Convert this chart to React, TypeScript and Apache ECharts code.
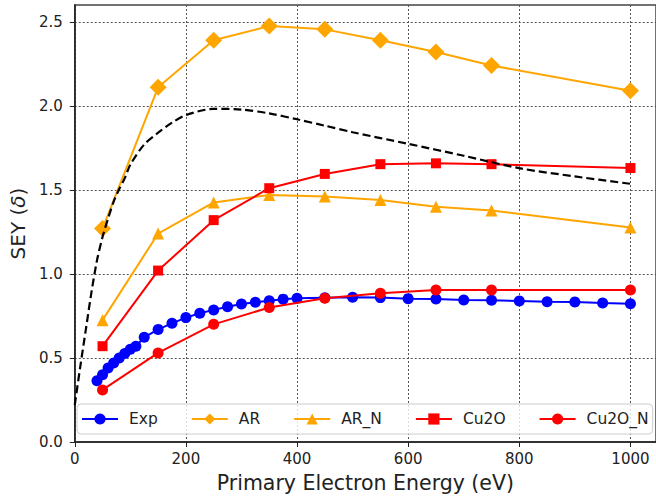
import React, { useEffect, useRef } from 'react';
import * as echarts from 'echarts';

// Simulation energies (eV)
const simEnergy = [50, 150, 250, 350, 450, 550, 650, 750, 1000];
const arValues = [1.27, 2.11, 2.39, 2.475, 2.455, 2.39, 2.32, 2.24, 2.09];
const arNValues = [0.725, 1.24, 1.425, 1.47, 1.46, 1.44, 1.40, 1.377, 1.276];
const cu2oValues = [0.57, 1.02, 1.32, 1.51, 1.595, 1.653, 1.658, 1.653, 1.63];
const cu2oNValues = [0.31, 0.53, 0.70, 0.80, 0.855, 0.885, 0.905, 0.905, 0.905];

// Experimental data
const expEnergy = [40, 50, 60, 70, 80, 90, 100, 110, 125, 150, 175, 200, 225, 250, 275, 300, 325, 350, 375, 400, 450, 500, 550, 600, 650, 700, 750, 800, 850, 900, 950, 1000];
const expValues = [0.365, 0.40, 0.44, 0.47, 0.50, 0.527, 0.552, 0.57, 0.623, 0.67, 0.706, 0.74, 0.766, 0.786, 0.805, 0.821, 0.832, 0.841, 0.85, 0.855, 0.858, 0.861, 0.859, 0.853, 0.851, 0.845, 0.843, 0.839, 0.835, 0.833, 0.827, 0.823];

// Dashed reference curve
const modelEnergy = [0, 10, 20, 30, 40, 50, 60, 70, 80, 90, 100, 125, 150, 175, 200, 250, 300, 350, 400, 450, 500, 600, 700, 800, 900, 1000];
const modelValues = [0.22, 0.45, 0.67, 0.89, 1.08, 1.22, 1.33, 1.43, 1.505, 1.57, 1.65, 1.77, 1.84, 1.90, 1.945, 1.982, 1.978, 1.955, 1.92, 1.882, 1.843, 1.774, 1.703, 1.629, 1.58, 1.536];

const xTicks = [0, 200, 400, 600, 800, 1000];
const yTicks = [0, 0.5, 1.0, 1.5, 2.0, 2.5];
const legendNames = ['Exp', 'AR', 'AR_N', 'Cu2O', 'Cu2O_N'];

const zip = (xs: number[], ys: number[]) => xs.map((x, i) => [x, ys[i]]);

export default function App() {
  const ref = useRef<HTMLDivElement>(null);
  useEffect(() => {
    if (!ref.current) return;
    const chart = echarts.init(ref.current, null, { renderer: 'svg' });
    const font = 'DejaVu Sans';
    const axisColor = '#222';
    const gridLine = { show: true, lineStyle: { color: '#555', type: [2, 2], width: 1 } };
    const lineSeries = (name: string, xs: number[], ys: number[], color: string, symbol: string, size: number, z: number) => ({
      name,
      type: 'line',
      data: zip(xs, ys),
      symbol,
      symbolSize: size,
      color,
      itemStyle: { color },
      lineStyle: { color, width: 2 },
      z,
    });
    chart.setOption({
      animation: false,
      textStyle: { fontFamily: font },
      grid: { left: 74, right: -2, top: 5, bottom: 57, show: true, borderColor: '#444', borderWidth: 1.5 },
      xAxis: {
        type: 'value',
        min: 0,
        max: 1046,
        interval: 200,
        name: 'Primary Electron Energy (eV)',
        nameLocation: 'middle',
        nameGap: 30,
        nameTextStyle: { fontSize: 20.5, color: axisColor, fontFamily: font },
        axisLine: { show: true, lineStyle: { color: axisColor, width: 1.5 } },
        axisTick: { show: true, length: 5, customValues: xTicks, lineStyle: { color: axisColor } },
        axisLabel: {
          fontSize: 15,
          color: axisColor,
          margin: 9,
          customValues: xTicks,
          formatter: (v: number) => (v % 200 === 0 ? String(v) : ''),
        },
        splitLine: gridLine,
      },
      yAxis: {
        type: 'value',
        min: 0,
        max: 2.6,
        interval: 0.5,
        name: 'SEY ({i|δ})',
        nameLocation: 'middle',
        nameGap: 46,
        nameRotate: 90,
        nameTextStyle: {
          fontSize: 20,
          color: axisColor,
          fontFamily: font,
          rich: { i: { fontSize: 20, fontStyle: 'italic', color: axisColor, fontFamily: font } },
        },
        axisLine: { show: true, lineStyle: { color: axisColor, width: 1.5 } },
        axisTick: { show: true, length: 5, customValues: yTicks, lineStyle: { color: axisColor } },
        axisLabel: {
          fontSize: 15,
          color: axisColor,
          margin: 12,
          customValues: yTicks,
          formatter: (v: number) => (Math.abs(v / 0.5 - Math.round(v / 0.5)) < 1e-6 ? v.toFixed(1) : ''),
        },
        splitLine: gridLine,
      },
      legend: {
        data: legendNames,
        left: 77,
        top: 404,
        orient: 'horizontal',
        itemWidth: 36,
        itemHeight: 14,
        itemGap: 33,
        padding: [7, 4, 7, 4],
        backgroundColor: 'rgba(255,255,255,0.8)',
        borderColor: '#ccc',
        borderWidth: 1,
        borderRadius: 4,
        textStyle: { fontSize: 15.5, color: '#222', fontFamily: font, padding: [0, 0, 0, 6] },
      },
      series: [
        lineSeries('Exp', expEnergy, expValues, '#0000ff', 'circle', 11, 2),
        lineSeries('AR', simEnergy, arValues, '#ffa500', 'diamond', 17, 3),
        lineSeries('AR_N', simEnergy, arNValues, '#ffa500', 'triangle', 12, 4),
        lineSeries('Cu2O', simEnergy, cu2oValues, '#ff0000', 'rect', 10, 5),
        lineSeries('Cu2O_N', simEnergy, cu2oNValues, '#ff0000', 'circle', 11, 6),
        {
          name: 'model',
          type: 'line',
          data: zip(modelEnergy, modelValues),
          smooth: 0.3,
          symbol: 'none',
          silent: true,
          lineStyle: { color: '#000', width: 2.2, type: [8, 4] },
          z: 7,
        },
      ],
    });
    return () => chart.dispose();
  }, []);
  return <div ref={ref} style={{ position: 'absolute', left: 0, top: 0, width: 656, height: 499, background: '#fff' }} />;
}
